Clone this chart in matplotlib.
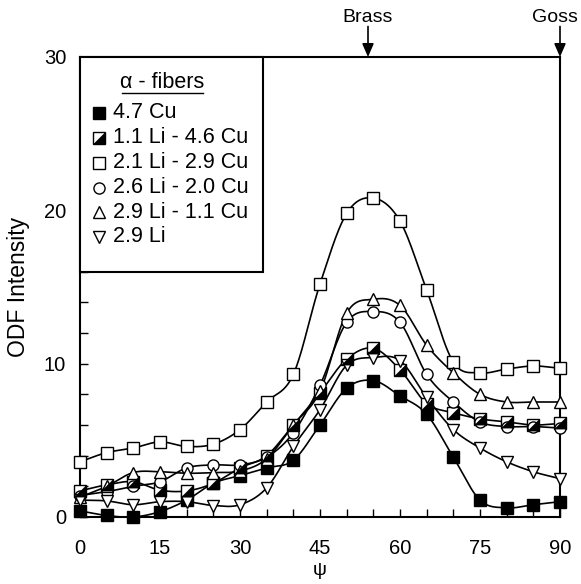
import numpy as np
import matplotlib
matplotlib.use("Agg")
import matplotlib.pyplot as plt
from matplotlib.path import Path
from matplotlib.patches import Rectangle

plt.rcParams['font.family'] = ['Liberation Sans', 'DejaVu Sans']

psi = [0, 5, 10, 15, 20, 25, 30, 35, 40, 45, 50, 55, 60, 65, 70, 75, 80, 85, 90]

cu47 = [0.4, 0.1, 0.0, 0.35, 1.1, 2.2, 2.7, 3.2, 3.7, 6.0, 8.4, 8.9, 7.9, 6.7, 3.9, 1.1, 0.6, 0.8, 1.0]
li11_cu46 = [1.7, 2.1, 2.3, 1.75, 1.7, 2.2, 3.2, 4.0, 6.0, 8.1, 10.3, 11.0, 9.6, 7.4, 6.8, 6.4, 6.2, 6.0, 6.1]
li21_cu29 = [3.6, 4.2, 4.5, 4.9, 4.6, 4.75, 5.7, 7.5, 9.3, 15.2, 19.8, 20.8, 19.3, 14.8, 10.1, 9.4, 9.65, 9.85, 9.7]
li26_cu20 = [1.4, 1.65, 2.0, 2.3, 3.2, 3.4, 3.4, 3.9, 5.5, 8.6, 12.7, 13.4, 12.7, 9.3, 7.5, 6.2, 5.9, 5.9, 5.8]
li29_cu11 = [1.3, 2.0, 2.9, 2.95, 2.85, 2.9, 3.0, 3.8, 6.0, 8.2, 13.3, 14.2, 13.8, 11.2, 9.4, 8.0, 7.5, 7.5, 7.5]
li29 = [1.1, 1.05, 0.8, 1.0, 1.0, 0.75, 0.8, 1.9, 4.6, 7.0, 9.9, 10.4, 10.2, 7.8, 5.7, 4.5, 3.6, 2.95, 2.5]

labels = ['4.7 Cu', '1.1 Li - 4.6 Cu', '2.1 Li - 2.9 Cu', '2.6 Li - 2.0 Cu', '2.9 Li - 1.1 Cu', '2.9 Li']
legend_title = 'α - fibers'
xticks = [0, 15, 30, 45, 60, 75, 90]
yticks = [0, 10, 20, 30]
annot_names = ['Brass', 'Goss']
annot_psi = [54, 90]


def catmull(x, y, n=24):
    x = np.asarray(x, float)
    y = np.asarray(y, float)
    px = np.concatenate([[2 * x[0] - x[1]], x, [2 * x[-1] - x[-2]]])
    py = np.concatenate([[2 * y[0] - y[1]], y, [2 * y[-1] - y[-2]]])
    xs, ys = [], []
    t = np.linspace(0, 1, n, endpoint=False)
    for i in range(1, len(px) - 2):
        for arr, out in ((px, xs), (py, ys)):
            p0, p1, p2, p3 = arr[i - 1], arr[i], arr[i + 1], arr[i + 2]
            v = 0.5 * ((2 * p1) + (-p0 + p2) * t + (2 * p0 - 5 * p1 + 4 * p2 - p3) * t ** 2
                       + (-p0 + 3 * p1 - 3 * p2 + p3) * t ** 3)
            out.extend(v)
    xs.append(x[-1])
    ys.append(y[-1])
    return np.array(xs), np.array(ys)


W, H = 581, 584
fig = plt.figure(figsize=(W / 100, H / 100), dpi=100)
AX_L, AX_R, AX_T, AX_B = 80, 560, 57, 517
ax = fig.add_axes([AX_L / W, 1 - AX_B / H, (AX_R - AX_L) / W, (AX_B - AX_T) / H])


def afx(px):
    return (px - AX_L) / (AX_R - AX_L)


def afy(py):
    return (AX_B - py) / (AX_B - AX_T)


ms = 8
lw = 1.2
tri_path = Path([(-1, -1), (1, 1), (1, -1), (-1, -1)],
                [Path.MOVETO, Path.LINETO, Path.LINETO, Path.CLOSEPOLY])

series = [cu47, li11_cu46, li21_cu29, li26_cu20, li29_cu11, li29]
markers = ['s', 's', 's', 'o', '^', 'v']
faces = ['black', 'white', 'white', 'white', 'white', 'white']

for i, (vals, m, fc) in enumerate(zip(series, markers, faces)):
    sx, sy = catmull(psi, vals)
    ax.plot(sx, sy, color='black', lw=lw, zorder=2)
    ax.plot(psi, vals, linestyle='none', marker=m, ms=ms, mfc=fc, mec='black', mew=1.0,
            zorder=3, clip_on=False)
    if i == 1:
        ax.plot(psi, vals, linestyle='none', marker=tri_path, ms=ms, mfc='black', mec='black',
                mew=0.5, zorder=4, clip_on=False)

ax.set_xlim(0, 90)
ax.set_ylim(0, 30)
ax.set_xticks(xticks)
ax.set_yticks(yticks)
ax.set_xticks(np.arange(0, 91, 5), minor=True)
ax.set_yticks(np.arange(0, 31, 2), minor=True)
ax.tick_params(axis='both', which='both', direction='in', length=6, width=1.0,
               labelsize=14.5, top=False, right=False)
ax.tick_params(axis='x', pad=16)
ax.tick_params(axis='y', pad=10)
for s in ax.spines.values():
    s.set_linewidth(1.5)

ax.set_xlabel('ψ', fontsize=14, labelpad=3)
ax.set_ylabel('ODF Intensity', fontsize=16.5, labelpad=10)

# legend box drawn by hand
ax.add_patch(Rectangle((0, afy(272)), afx(263), 1 - afy(272), transform=ax.transAxes,
                       facecolor='white', edgecolor='black', lw=1.5, zorder=10, clip_on=False))
ax.text(afx(162), afy(82), legend_title, transform=ax.transAxes, ha='center', va='center',
        fontsize=15.5, zorder=11)
ax.plot([afx(122), afx(203)], [afy(93), afy(93)], transform=ax.transAxes, color='black',
        lw=1.0, zorder=11, clip_on=False)
rows_py = [113, 137.5, 162.5, 187.5, 212, 237]
for i, (lab, m, fc, rp) in enumerate(zip(labels, markers, faces, rows_py)):
    ax.plot([afx(99)], [afy(rp)], transform=ax.transAxes, linestyle='none', marker=m, ms=ms,
            mfc=fc, mec='black', mew=1.0, zorder=11, clip_on=False)
    if i == 1:
        ax.plot([afx(99)], [afy(rp)], transform=ax.transAxes, linestyle='none', marker=tri_path,
                ms=ms, mfc='black', mec='black', mew=0.5, zorder=12, clip_on=False)
    ax.text(afx(113), afy(rp), lab, transform=ax.transAxes, ha='left', va='center',
            fontsize=15.5, zorder=11)

for name, p, dx in zip(annot_names, annot_psi, [0, -4]):
    ax.annotate('', xy=(p, 30), xycoords='data', xytext=(0, 22), textcoords='offset points',
                arrowprops=dict(arrowstyle='-|>,head_length=0.8,head_width=0.35', color='black', lw=1.2,
                                shrinkA=0, shrinkB=0))
    ax.annotate(name, xy=(p, 30), xycoords='data', xytext=(dx, 22), textcoords='offset points',
                ha='center', va='bottom', fontsize=14)

fig.savefig('out.png', dpi=100)
